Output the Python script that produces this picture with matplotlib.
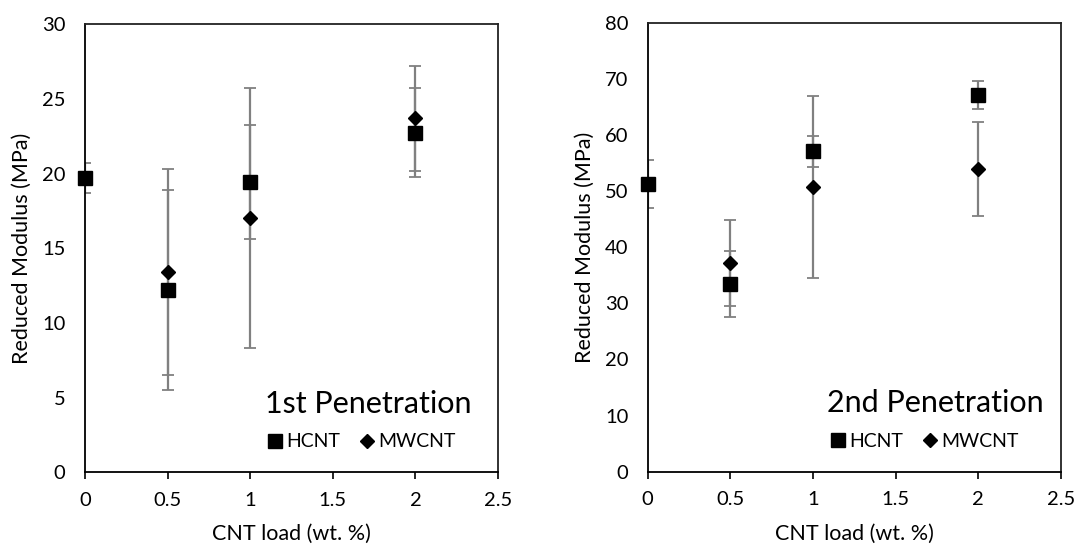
import matplotlib
matplotlib.use("Agg")
from matplotlib import pyplot as plt

plt.rcParams['font.family'] = ['Lato', 'DejaVu Sans']

# datos
carga = [0, 0.5, 1, 2]
carga_mw = [0.5, 1, 2]

# 1ra penetracion
hcnt_1 = [19.7, 12.2, 19.45, 22.75]
hcnt_1_err = [1.0, 6.7, 3.8, 3.0]
mwcnt_1 = [13.4, 17.05, 23.7]
mwcnt_1_err = [6.9, 8.7, 3.5]

# 2da penetracion
hcnt_2 = [51.2, 33.5, 57.1, 67.2]
hcnt_2_err = [4.3, 5.9, 2.8, 2.5]
mwcnt_2 = [37.2, 50.7, 53.9]
mwcnt_2_err = [7.7, 16.2, 8.4]

paneles = [
    (hcnt_1, hcnt_1_err, mwcnt_1, mwcnt_1_err, 30, 5, "1st Penetration", 0.935),
    (hcnt_2, hcnt_2_err, mwcnt_2, mwcnt_2_err, 80, 10, "2nd Penetration", 0.958),
]

fig = plt.figure(figsize=(10.77, 5.46), dpi=100)
posiciones = [[0.0789, 0.135, 0.3835, 0.8205], [0.6014, 0.1361, 0.3837, 0.8223]]

gris = "#808080"
for pos, (h, he, m, me, ymax, paso, titulo, xt) in zip(posiciones, paneles):
    ax = fig.add_axes(pos)

    # barras de error (recortadas por el area del grafico)
    ax.errorbar(carga, h, yerr=he, fmt='none', ecolor=gris, elinewidth=1.6,
                capsize=4.5, capthick=1.3, zorder=2)
    ax.errorbar(carga_mw, m, yerr=me, fmt='none', ecolor=gris, elinewidth=1.6,
                capsize=4.5, capthick=1.3, zorder=2)

    # marcadores sin recortar
    ax.plot(carga, h, linestyle='none', marker='s', markersize=10, color='black',
            clip_on=False, zorder=4, label='HCNT')
    ax.plot(carga_mw, m, linestyle='none', marker='D', markersize=7, color='black',
            clip_on=False, zorder=4, label='MWCNT')

    ax.set_xlim(0, 2.5)
    ax.set_ylim(0, ymax)
    ax.set_xticks([0, 0.5, 1, 1.5, 2, 2.5])
    ax.set_xticklabels(['0', '0.5', '1', '1.5', '2', '2.5'])
    ax.set_yticks(range(0, ymax + 1, paso))
    ax.tick_params(axis='x', direction='out', length=5, width=1.2, labelsize=14.5, pad=9)
    ax.tick_params(axis='y', length=0, labelsize=14.5, pad=14)
    for s in ax.spines.values():
        s.set_linewidth(1.3)
        s.set_color('black')
    ax.spines['top'].set_color('#222222')
    ax.spines['right'].set_color('#222222')

    ax.set_xlabel('CNT load (wt. %)', fontsize=15.5, labelpad=11)
    ax.set_ylabel('Reduced Modulus (MPa)', fontsize=15.5, labelpad=7)

    ax.text(xt, 0.153, titulo, transform=ax.transAxes, ha='right', va='center',
            fontsize=22)
    ax.legend(loc='lower right', bbox_to_anchor=(0.94, 0.01), ncol=2, frameon=False,
              fontsize=14, handletextpad=0.1, columnspacing=0.85, handlelength=1.0,
              markerscale=0.95)

fig.savefig('out.png', dpi=100)
